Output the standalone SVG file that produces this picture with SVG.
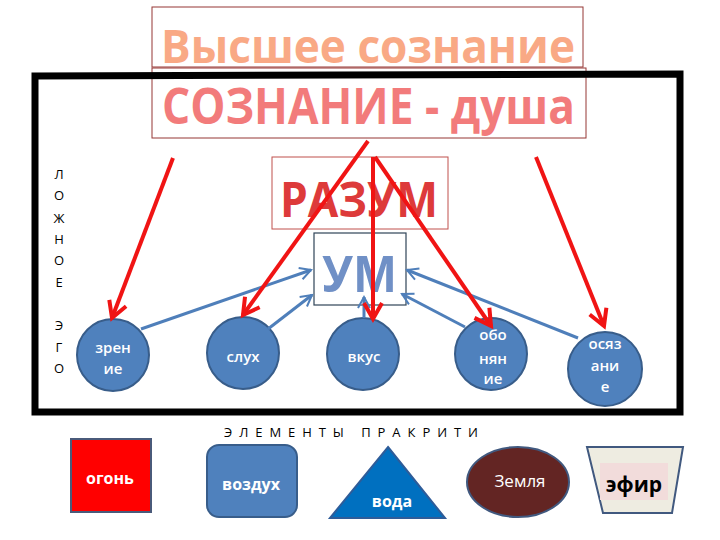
<svg xmlns="http://www.w3.org/2000/svg" width="720" height="540" viewBox="0 0 720 540">
<defs>
<style>
text{font-family:"Open Sans","DejaVu Sans",sans-serif}
.big{font-weight:bold}
.sense circle{fill:#4F81BD;stroke:#385D8A;stroke-width:2}
.sense text{fill:#ffffff;font-size:15px;font-weight:600;text-anchor:middle}
.elem text{text-anchor:middle}
.red{stroke:#F01414;stroke-width:4;fill:none}
.blue{stroke:#4F7FBA;stroke-width:3;fill:none}
.ego{font-size:13px;fill:#000;text-anchor:middle}
</style>
<marker id="ra" markerUnits="userSpaceOnUse" markerWidth="30" markerHeight="30" refX="0" refY="0" orient="auto" overflow="visible"><path d="M-16,-9 L0,0 L-16,9" stroke="#F01414" stroke-width="4" fill="none"/></marker>
<marker id="ba" markerUnits="userSpaceOnUse" markerWidth="20" markerHeight="20" refX="0" refY="0" orient="auto" overflow="visible"><path d="M-11,-6 L0,0 L-11,6" stroke="#4F7FBA" stroke-width="2" fill="none"/></marker>
</defs>
<rect width="720" height="540" fill="#ffffff"/>

<g id="vysshee">
<rect x="152" y="7" width="431" height="60" fill="#ffffff" stroke="#953735" stroke-width="1"/>
<text class="big" x="161" y="63" font-size="47" fill="#F9A985" textLength="414" lengthAdjust="spacingAndGlyphs">Высшее сознание</text>
</g>
<g id="soznanie">
<rect x="152" y="68" width="434" height="70" fill="#ffffff" stroke="#953735" stroke-width="1"/>
<text class="big" x="162" y="124" font-size="50" fill="#F27B7B" textLength="413" lengthAdjust="spacingAndGlyphs">СОЗНАНИЕ - душа</text>
</g>

<g id="frame">
<path d="M35,76 L680,74 L680,412 L35,412 Z" fill="none" stroke="#000" stroke-width="7"/>
</g>

<g id="lozhnoe-ego">
<text class="ego" x="59" y="179">Л</text>
<text class="ego" x="59" y="200">О</text>
<text class="ego" x="59" y="223">Ж</text>
<text class="ego" x="59" y="244">Н</text>
<text class="ego" x="59" y="265">О</text>
<text class="ego" x="59" y="287">Е</text>
<text class="ego" x="59" y="330">Э</text>
<text class="ego" x="59" y="352">Г</text>
<text class="ego" x="59" y="373">О</text>
</g>

<g id="razum">
<rect x="272" y="157" width="176" height="72" fill="#ffffff" stroke="#C0504D" stroke-width="1"/>
<text class="big" x="280" y="217" font-size="48" fill="#DD3A3A" textLength="158" lengthAdjust="spacingAndGlyphs">РАЗУМ</text>
</g>
<g id="um">
<rect x="314" y="233" width="92" height="72" fill="#ffffff" stroke="#2F4458" stroke-width="1.2"/>
<text class="big" x="322" y="292" font-size="50" fill="#7090C6" textLength="75" lengthAdjust="spacingAndGlyphs">УМ</text>
</g>

<g id="zrenie" class="sense">
<circle cx="113" cy="355" r="36"/>
<text x="113" y="353">зрен</text>
<text x="113" y="374">ие</text>
</g>
<g id="slukh" class="sense">
<circle cx="243" cy="353" r="36"/>
<text x="243" y="362">слух</text>
</g>
<g id="vkus" class="sense">
<circle cx="363" cy="354" r="36"/>
<text x="364" y="362">вкус</text>
</g>
<g id="obonyanie" class="sense">
<circle cx="491" cy="354" r="36"/>
<text x="493" y="340">обо</text>
<text x="493" y="364">нян</text>
<text x="493" y="384">ие</text>
</g>
<g id="osyazanie" class="sense">
<circle cx="605" cy="369" r="37"/>
<text x="605" y="349">осяз</text>
<text x="605" y="371">ани</text>
<text x="605" y="392">е</text>
</g>

<g id="connectors">
<line class="blue" x1="141" y1="329" x2="311" y2="270" marker-end="url(#ba)"/>
<line class="blue" x1="268" y1="329" x2="312" y2="295" marker-end="url(#ba)"/>
<line class="blue" x1="364" y1="318" x2="364" y2="297" marker-end="url(#ba)"/>
<line class="blue" x1="465" y1="327" x2="402" y2="294" marker-end="url(#ba)"/>
<line class="blue" x1="578" y1="338" x2="407" y2="270" marker-end="url(#ba)"/>
<line class="red" x1="173" y1="158" x2="112" y2="318" marker-end="url(#ra)"/>
<line class="red" x1="368" y1="141" x2="243" y2="315" marker-end="url(#ra)"/>
<line class="red" x1="373" y1="157" x2="373" y2="319" marker-end="url(#ra)"/>
<line class="red" x1="375" y1="157" x2="491" y2="326" marker-end="url(#ra)"/>
<line class="red" x1="536" y1="157" x2="604" y2="326" marker-end="url(#ra)"/>
</g>

<g id="elements-title">
<text x="224" y="437" font-size="13" fill="#000" textLength="254" lengthAdjust="spacing">ЭЛЕМЕНТЫ ПРАКРИТИ</text>
</g>
<g id="ogon" class="elem">
<rect x="71" y="439" width="80" height="73" fill="#FF0000" stroke="#4A5A7A" stroke-width="2"/>
<text x="110" y="484" font-size="16" font-weight="bold" fill="#ffffff">огонь</text>
</g>
<g id="vozdukh" class="elem">
<rect x="207" y="445" width="90" height="72" rx="12" fill="#4F81BD" stroke="#385D8A" stroke-width="2"/>
<text x="251" y="490" font-size="16" font-weight="bold" fill="#ffffff">воздух</text>
</g>
<g id="voda" class="elem">
<polygon points="388,447 445,518 330,518" fill="#0070C0" stroke="#2E5C99" stroke-width="2"/>
<text x="392" y="507" font-size="16" font-weight="bold" fill="#ffffff">вода</text>
</g>
<g id="zemlya" class="elem">
<ellipse cx="518" cy="482" rx="51" ry="35" fill="#632523" stroke="#41597F" stroke-width="2"/>
<text x="520" y="487" font-size="17" fill="#ffffff">Земля</text>
</g>
<g id="efir" class="elem">
<polygon points="587,447 683,447 672,513 603,513" fill="#EEECE1" stroke="#41597F" stroke-width="2"/>
<rect x="600" y="463" width="68" height="37" fill="#F2DCDB"/>
<text x="634" y="492" font-size="21" font-weight="bold" fill="#000000">эфир</text>
</g>
</svg>
